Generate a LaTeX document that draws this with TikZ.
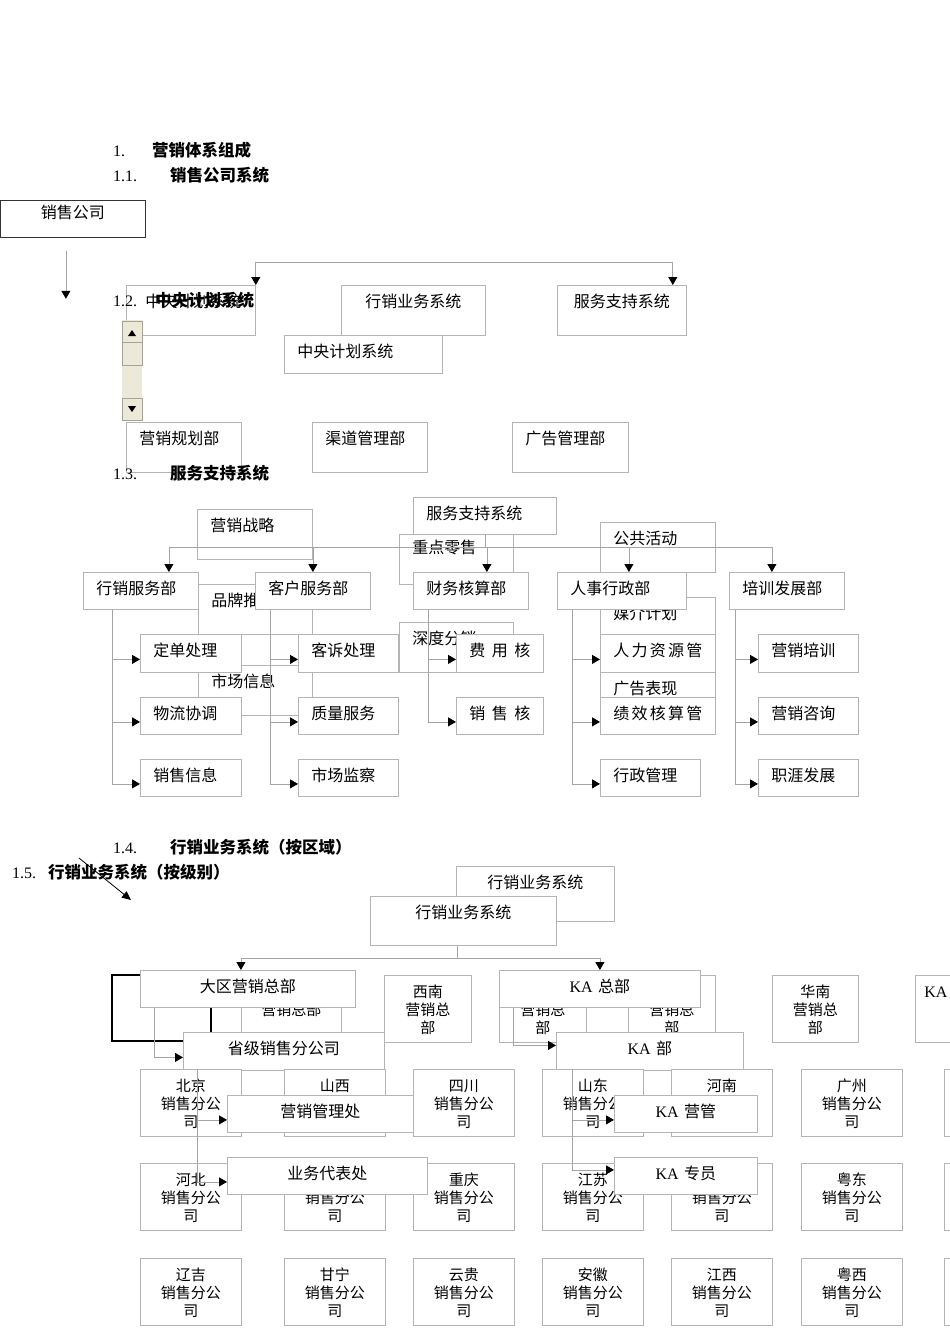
\documentclass[tikz,border=0pt]{standalone}
\usepackage{fontspec}
\setmainfont{Liberation Serif}
\newfontfamily\cjk{Noto Sans CJK SC}
\usetikzlibrary{arrows.meta,positioning}
\definecolor{boxgray}{HTML}{B4B4B4}
\definecolor{linegray}{HTML}{A4A4A4}
\definecolor{sbface}{HTML}{ECE9D8}
\definecolor{sbedge}{HTML}{A6A294}
\tikzset{
  tbox/.style    = {draw=boxgray, line width=0.8pt, fill=white, anchor=north west,
                    inner xsep=13pt, inner ysep=0pt, align=left, text height=22pt,
                    font=\cjk\fontsize{16}{19}\selectfont},
  cbox/.style    = {tbox, align=center},
  sbox/.style    = {cbox, font=\cjk\fontsize{15}{18}\selectfont},
  darkbox/.style = {cbox, draw=black!80},
  conn/.style    = {draw=linegray, line width=0.8pt},
  arr/.style     = {conn, -{Triangle[color=black,length=8pt,width=9pt]}},
  bracket/.style = {draw=black, line width=1.6pt},
  secttl/.style  = {anchor=base west, inner sep=0pt, font=\fontsize{16}{19}\selectfont},
}
% box from (x1,y1) to (x2,y2), y counted downwards
\newcommand{\orgbox}[7][]{%
  \pgfmathsetmacro{\bxw}{#5-#3-26}%
  \pgfmathsetmacro{\bxd}{#6-#4-22}%
  \node[tbox,#1,text width=\bxw pt,text depth=\bxd pt] (#2) at (#3,-#4) {#7};}

\begin{document}
\begin{tikzpicture}[x=1pt,y=1pt]
  \useasboundingbox (0,0) rectangle (950,-1344);
  \fill[white] (0,0) rectangle (950,-1344);

  % 1.1 / 1.2
  \orgbox[darkbox]{xsgs}{0}{200}{145}{237}{\raisebox{4pt}{销售公司}}
  \orgbox{zyjh}{126}{285}{255}{335}{\hspace*{6pt}中央计划系统}
  \orgbox[cbox]{xsyw}{341}{285}{485}{335}{行销业务系统}
  \orgbox{zyjh2}{284}{335}{442}{373}{中央计划系统}
  \orgbox[cbox]{fwzc}{557}{285}{686}{335}{服务支持系统}
  \orgbox{yxgh}{126}{422}{241}{472}{营销规划部}
  \orgbox{qdgl}{312}{422}{427}{472}{渠道管理部}
  \orgbox{gggl}{512}{422}{628}{472}{广告管理部}

  % 1.3
  \orgbox{yxzl}{197}{509}{312}{559}{营销战略}
  \orgbox{ppty}{198}{584}{312}{634}{品牌推广}
  \orgbox{scxx}{198}{665}{312}{715}{市场信息}
  \orgbox{zdls}{399}{534}{513}{584}{\raisebox{3pt}{重点零售}}
  \orgbox{sdfx}{399}{622}{513}{672}{深度分销}
  \orgbox{ggdh}{600}{522}{715}{572}{公共活动}
  \orgbox{mjjh}{600}{597}{715}{634}{媒介计划}
  \orgbox{ggbx}{600}{672}{715}{722}{广告表现}
  \orgbox{fwzc13}{413}{497}{556}{534}{服务支持系统}
  \orgbox{xsfw}{83}{572}{198}{609}{行销服务部}
  \orgbox{khfw}{255}{572}{370}{609}{客户服务部}
  \orgbox{cwhs}{413}{572}{528}{609}{财务核算部}
  \orgbox{rsxz}{557}{572}{686}{609}{人事行政部}
  \orgbox{pxfz}{729}{572}{844}{609}{培训发展部}
  \orgbox{ddcl}{140}{634}{241}{672}{定单处理}
  \orgbox{wlxt}{140}{697}{241}{734}{物流协调}
  \orgbox{xsxx}{140}{759}{241}{796}{销售信息}
  \orgbox{kscl}{298}{634}{398}{672}{客诉处理}
  \orgbox{zlfw}{298}{697}{398}{734}{质量服务}
  \orgbox{scjc}{298}{759}{398}{796}{市场监察}
  \orgbox{fyhs}{456}{634}{543}{672}{费\hfill 用\hfill 核}
  \orgbox{xshs}{456}{697}{543}{734}{销\hfill 售\hfill 核}
  \orgbox{rlzy}{600}{634}{715}{672}{人\hfill 力\hfill 资\hfill 源\hfill 管}
  \orgbox{jxhs}{600}{697}{715}{734}{绩\hfill 效\hfill 核\hfill 算\hfill 管}
  \orgbox{xzgl}{600}{759}{700}{796}{行政管理}
  \orgbox{yxpx}{758}{634}{858}{672}{营销培训}
  \orgbox{yxzx}{758}{697}{858}{734}{营销咨询}
  \orgbox{zyfz}{758}{759}{858}{796}{职涯发展}

  % 1.4 / 1.5
  \orgbox[cbox]{xsywb}{456}{866}{614}{921}{行销业务系统}
  \orgbox[cbox]{xsywf}{370}{896}{556}{945}{行销业务系统}
  \orgbox[sbox]{yxzbl}{241}{975}{341}{1042}{\mbox{}\\营销总部}
  \orgbox[sbox]{yxzba}{499}{975}{586}{1042}{\mbox{}\\营销总\\部}
  \orgbox[sbox]{yxzbb}{628}{975}{715}{1042}{\mbox{}\\营销总\\部}
  \orgbox[sbox]{xnzb}{384}{975}{471}{1042}{西南\\营销总\\部}
  \orgbox[sbox]{hnzb}{772}{975}{858}{1042}{华南\\营销总\\部}
  \orgbox{kazbr}{915}{975}{1000}{1042}{\hspace*{-4pt}\rmfamily KA}
  \orgbox[cbox]{dqzb}{140}{970}{355}{1007}{大区营销总部}
  \orgbox[cbox]{kazb}{499}{970}{700}{1007}{{\rmfamily KA} 总部}
  \orgbox[cbox]{sjfgs}{183}{1032}{384}{1070}{省级销售分公司}
  \orgbox[cbox]{kab}{556}{1032}{743}{1070}{{\rmfamily KA} 部}
  \foreach \nm/\xa/\ya/\txt in {bj/140/1069/北京, sc/413/1069/四川,
      sd/542/1069/山东, gz/801/1069/广州,
      hb/140/1163/河北, r4b/284/1163/, cq/413/1163/重庆,
      js/542/1163/江苏, r4e/671/1163/, yd/801/1163/粤东,
      lj/140/1258/辽吉, gn/284/1258/甘宁, yg/413/1258/云贵,
      ah/542/1258/安徽, jx/671/1258/江西, yx/801/1258/粤西}
    \orgbox[sbox]{\nm}{\xa}{\ya}{\xa+101}{\ya+67}{\mbox{}\txt\\销售分公\\司};
  % boxes whose lower lines are covered
  \foreach \nm/\xa/\txt in {sx/284/山西, hn/671/河南}
    \orgbox[sbox]{\nm}{\xa}{1069}{\xa+101}{1136}{\txt};
  \foreach \nm/\ya in {r3g/1069, r4g/1163, r5g/1258}
    \orgbox[sbox]{\nm}{944}{\ya}{1045}{\ya+67}{};
  \orgbox[cbox]{yxgl}{227}{1095}{413}{1132}{营销管理处}
  \orgbox[cbox]{ywdb}{227}{1157}{427}{1194}{业务代表处}
  \orgbox[cbox]{kayg}{614}{1095}{757}{1132}{{\rmfamily KA} 营管}
  \orgbox[cbox]{kazy}{614}{1157}{757}{1194}{{\rmfamily KA} 专员}

  % scroll bar
  \fill[sbface] (122,-320) rectangle (142,-420);
  \draw[sbedge, fill=sbface] (122,-321) rectangle (142,-342);
  \fill (128,-336) -- (136,-336) -- (132,-330) -- cycle;
  \draw[sbedge, fill=sbface] (122,-342) rectangle (142,-365);
  \draw[sbedge, fill=sbface] (122,-398) rectangle (142,-420);
  \fill (128,-406) -- (136,-406) -- (132,-412) -- cycle;

  % connectors 1.1
  \draw[arr] ([xshift=-7pt,yshift=-13pt]xsgs.south) -- ([xshift=-7pt,yshift=-61pt]xsgs.south);
  \coordinate (bus11) at (0,-262);
  \draw[arr] (zyjh.north east |- bus11) -- (zyjh.north east);
  \draw[arr] (zyjh.north east |- bus11) -| ([xshift=-14pt]fwzc.north east);

  % connectors 1.3
  \coordinate (bus13) at (0,-547);
  \draw[conn] (fwzc13.south) -- (fwzc13.south |- bus13);
  \draw[conn] ([xshift=28pt]xsfw.north |- bus13) -- ([xshift=-15pt]pxfz.north |- bus13);
  \foreach \n/\dx in {xsfw/28,khfw/0,cwhs/16,rsxz/7,pxfz/-15}
    \draw[arr] ([xshift=\dx pt]\n.north |- bus13) -- ([xshift=\dx pt]\n.north);
  \foreach \c in {ddcl,wlxt,xsxx}
    \draw[arr] ([xshift=29pt]xsfw.south west) |- ([yshift=-6pt]\c.west);
  \foreach \c in {kscl,zlfw,scjc}
    \draw[arr] ([xshift=15pt]khfw.south west) |- ([yshift=-6pt]\c.west);
  \foreach \c in {fyhs,xshs}
    \draw[arr] ([xshift=15pt]cwhs.south west) |- ([yshift=-6pt]\c.west);
  \foreach \c in {rlzy,jxhs,xzgl}
    \draw[arr] ([xshift=15pt]rsxz.south west) |- ([yshift=-6pt]\c.west);
  \foreach \c in {yxpx,yxzx,zyfz}
    \draw[arr] ([xshift=6pt]pxfz.south west) |- ([yshift=-6pt]\c.west);

  % connectors 1.4 / 1.5
  \coordinate (d1) at (79,-858);
  \coordinate (d2) at (131,-900);
  \draw[black, line width=0.8pt, -{Triangle[length=9pt,width=8pt]}] (d1) -- (d2);
  \coordinate (bus14) at (0,-958);
  \draw[conn] ([xshift=-6pt]xsywf.south) -- ([xshift=-6pt]xsywf.south |- bus14);
  \draw[conn] ([xshift=-7pt]dqzb.north |- bus14) -- (kazb.north |- bus14);
  \draw[arr] ([xshift=-7pt]dqzb.north |- bus14) -- ([xshift=-7pt]dqzb.north);
  \draw[arr] (kazb.north |- bus14) -- (kazb.north);
  \draw[bracket] ([yshift=-5pt]dqzb.north west) -- ++(-28,0) |- ([yshift=-9pt]sjfgs.north west);
  \draw[bracket] ([xshift=71pt]dqzb.south west) -- ([xshift=28pt]sjfgs.north west);
  \draw[arr] ([xshift=14pt]dqzb.south west) |- ([yshift=-6pt]sjfgs.west);
  \draw[arr] ([xshift=14pt]kazb.south west) |- ([yshift=6pt]kab.west);
  \draw[arr] ([xshift=57pt]bj.north west) |- ([yshift=-6pt]yxgl.west);
  \draw[arr] ([xshift=57pt]bj.north west) |- ([yshift=-6pt]ywdb.west);
  \draw[arr] ([xshift=30pt]sd.north west) |- ([yshift=-6pt]kayg.west);
  \draw[arr] ([xshift=30pt]sd.north west) |- ([yshift=6pt]kazy.west);

  % headings
  \node[secttl] (h1)  at (113,-156) {\makebox[39pt][l]{1.}{\cjk\bfseries\fontsize{16.5}{19}\selectfont 营销体系组成}};
  \node[secttl] (h11) at (113,-181) {\makebox[57pt][l]{1.1.}{\cjk\bfseries\fontsize{16.5}{19}\selectfont 销售公司系统}};
  \node[secttl] (h12) at (113,-306) {\makebox[42pt][l]{1.2.}{\cjk\bfseries\fontsize{16.5}{19}\selectfont 中央计划系统}};
  \node[secttl] (h13) at (113,-479) {\makebox[57pt][l]{1.3.}{\cjk\bfseries\fontsize{16.5}{19}\selectfont 服务支持系统}};
  \node[secttl] (h14) at (113,-853) {\makebox[57pt][l]{1.4.}{\cjk\bfseries\fontsize{16.5}{19}\selectfont 行销业务系统（按区域）}};
  \node[secttl] (h15) at (12,-878)  {\makebox[36pt][l]{1.5.}{\cjk\bfseries\fontsize{16.5}{19}\selectfont 行销业务系统（按级别）}};
\end{tikzpicture}
\end{document}
